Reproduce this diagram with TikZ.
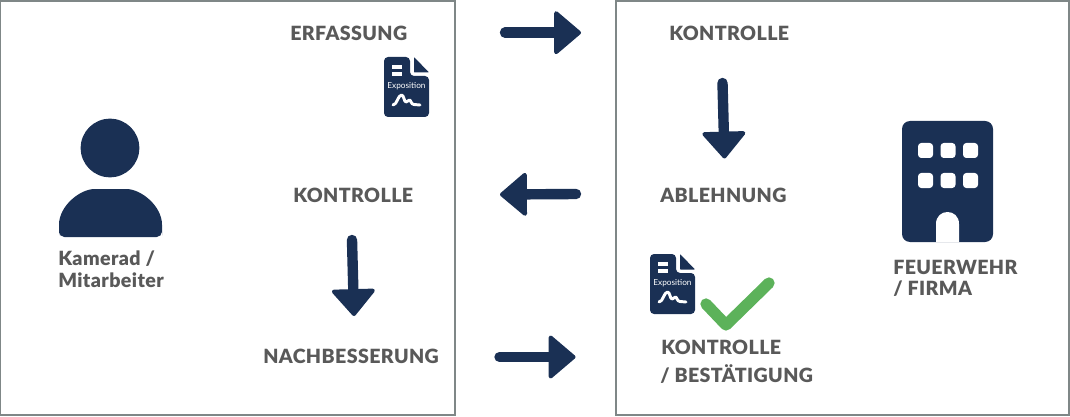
\documentclass[tikz,border=0pt]{standalone}
\usepackage{fontspec}
\setmainfont{Lato}[BoldFont={Lato Black}, LetterSpace=2]
\usepackage{xcolor}
\usetikzlibrary{arrows.meta, positioning, calc}
\definecolor{fwnavy}{RGB}{26,48,84}
\definecolor{fwgrey}{RGB}{89,89,89}
\definecolor{fwborder}{RGB}{127,135,135}
\definecolor{fwgreen}{RGB}{92,178,90}

\begin{document}
\begin{tikzpicture}[
    x=0.75pt, y=-0.75pt,
    frame/.style={rectangle, draw=fwborder, line width=0.8pt},
    label/.style={anchor=west, inner sep=0pt, text=fwgrey, font=\fontsize{14.7}{16}\selectfont\bfseries},
    arrow/.style={-{Triangle[length=21pt, width=35pt, round, line width=3pt]}, line width=7.8pt, line cap=round, color=fwnavy},
    docicon/.pic={
        \fill[fwnavy, rounded corners=3pt] (0,0) -- (26,0) -- (26,19) -- (45,19) -- (45,60) -- (0,60) -- cycle;
        \fill[fwnavy, rounded corners=0.5pt] (30,0) -- (45,15.5) -- (30,15.5) -- cycle;
        \fill[white] (7.5,8) rectangle (18,12);
        \fill[white] (7.5,15) rectangle (18,19);
        \node[text=white, inner sep=0pt, font=\fontsize{6.2}{7}\selectfont\addfontfeatures{LetterSpace=0}] (-text) at (22.5,29) {Exposition};
        \draw[white, line width=2.2pt, line cap=round, line join=round] (9,48) .. controls (13,48) and (14,38) .. (17.5,38) .. controls (20,38) and (20,45) .. (22,45) .. controls (24,45) and (24,43) .. (25.5,43) .. controls (27,43) and (27,47.5) .. (30,47.5) -- (36,48);
    }
]
\useasboundingbox (0,0) rectangle (1070,417);

\draw[frame] (0.5,1) rectangle (455,415);
\draw[frame] (616,1) rectangle (1069,415);

% person
\fill[fwnavy] (110,148) circle[radius=22pt];
\fill[fwnavy, rounded corners=4pt] (59,237) -- (59,230) .. controls (59,206) and (80,189) .. (100,189) -- (121,189) .. controls (141,189) and (162,206) .. (162,230) -- (162,237) -- cycle;

% building
\fill[fwnavy, rounded corners=6pt] (902,121) rectangle (993,242);
\foreach \wx in {918,940.5,963}
  \foreach \wy in {143,173}
    \fill[white, rounded corners=2.5pt] (\wx,\wy) rectangle ++(15,15);
\fill[white] (936,242) -- (936,224) .. controls (936,208) and (959,208) .. (959,224) -- (959,242) -- cycle;

% documents and check mark
\pic (doca) at (384,57) {docicon};
\pic (docb) at (650,254) {docicon};
\draw[fwgreen, line width=8.5pt, line cap=round, line join=round] (706,304) -- (726,325) -- (769,283);

\node[label] (erfassung) at (290,33.5)  {ERFASSUNG};
\node[label] (kontra)    at (293,195.5) {KONTROLLE};
\node[label] (nachb)     at (263,356.5) {NACHBESSERUNG};
\node[label] (kamerad)   at (58,258.5)  {Kamerad /};
\node[label] (mitarb)    at (58,280.5)  {Mitarbeiter};
\node[label] (kontrb)    at (669,33.5)  {KONTROLLE};
\node[label] (ablehn)    at (660,195.5) {ABLEHNUNG};
\node[label] (kontrc)    at (661,347.5) {KONTROLLE};
\node[label] (bestaet)   at (660,374.5) {/ BESTÄTIGUNG};
\node[label] (feuerw)    at (893,267.5) {FEUERWEHR};
\node[label] (firma)     at (893,288.5) {/ FIRMA};

\coordinate (aas) at (505,32.7);
\coordinate (aae) at (581,32.7);
\coordinate (abs) at (576,194);
\coordinate (abe) at (500,194.5);
\coordinate (acs) at (499.5,357);
\coordinate (ace) at (575.5,357);
\coordinate (ads) at (722.5,83);
\coordinate (ade) at (724.5,158.5);
\coordinate (aes) at (352,240);
\coordinate (aee) at (354,316);

\draw[arrow] (aas) -- (aae);
\draw[arrow] (abs) -- (abe);
\draw[arrow] (acs) -- (ace);
\draw[arrow] (ads) -- (ade);
\draw[arrow] (aes) -- (aee);
\end{tikzpicture}
\end{document}
